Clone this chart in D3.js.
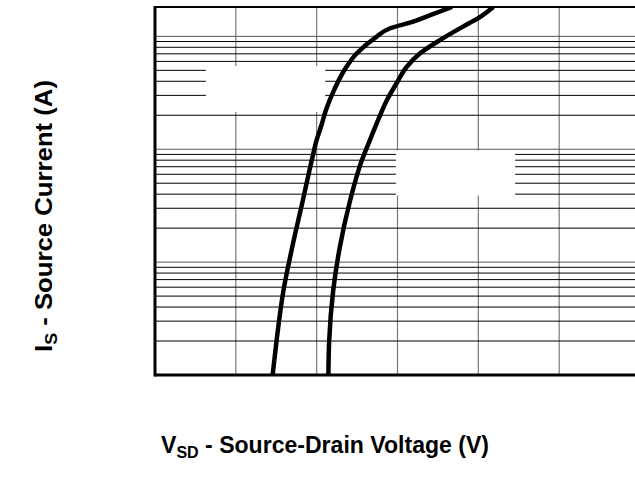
<!DOCTYPE html>
<html>
<head>
<meta charset="utf-8">
<script src="https://cdn.jsdelivr.net/npm/d3@7"></script>
<style>
  html, body { margin: 0; padding: 0; background: #fff; }
  svg { display: block; }
</style>
</head>
<body>
<div id="chart"></div>
<script>
// source-drain diode curves
const vsdHot = [0.291, 0.301, 0.318, 0.338, 0.366, 0.388, 0.400, 0.412, 0.423, 0.443, 0.468, 0.500, 0.547, 0.582, 0.639, 0.681, 0.735];
const isHot = [0.01, 0.0204, 0.0565, 0.128, 0.355, 0.802, 1.21, 1.64, 2.23, 3.34, 4.99, 7.12, 9.86, 11.8, 13.5, 15.4, 18.2];
const vsdCold = [0.429, 0.431, 0.441, 0.456, 0.483, 0.512, 0.532, 0.554, 0.574, 0.598, 0.623, 0.656, 0.705, 0.762, 0.800, 0.837];
const isCold = [0.01, 0.0204, 0.0565, 0.128, 0.355, 0.802, 1.21, 1.89, 2.73, 3.86, 5.38, 7.07, 9.27, 12.2, 14.5, 18.2];

// axis ranges and grid ticks
const xDomain = [0, 1.2];
const yDomain = [0.01, 18.2];
const xGrid = [0.2, 0.4, 0.6, 0.8, 1.0];
const decades = [0.01, 0.1, 1, 10];

// blank label boxes (data units: v0, v1, i0, i1)
const labelBoxes = [
  { v0: 0.126, v1: 0.421, i0: 2.14, i1: 5.46 },
  { v0: 0.596, v1: 0.891, i0: 0.389, i1: 0.973 },
];

const W = 635, H = 495;
const margin = { top: 7, right: -5, bottom: 120, left: 155 };
const width = W - margin.left - margin.right,
  height = H - margin.top - margin.bottom;

d3.select('#chart').html('');
const svg = d3.select('#chart').append('svg')
  .attr('width', W)
  .attr('height', H);

const g = svg.append('g').attr('transform', `translate(${margin.left},${margin.top})`);

const x = d3.scaleLinear().domain(xDomain).range([0, width]);
const y = d3.scaleLog().domain(yDomain).range([height, 0]);

g.append('clipPath').attr('id', 'plot-clip')
  .append('rect').attr('width', width).attr('height', height);

// minor horizontal lines 2..9 in each decade
const minor = [];
decades.forEach(d => {
  for (let k = 2; k <= 9; k++) {
    const v = d * k;
    if (v < yDomain[1]) minor.push(v);
  }
});

g.selectAll('.vgrid').data(xGrid).enter().append('line')
  .attr('class', 'vgrid')
  .attr('x1', d => x(d)).attr('x2', d => x(d))
  .attr('y1', 0).attr('y2', height)
  .attr('stroke', '#777').attr('stroke-width', 1.2);

g.selectAll('.hminor').data(minor).enter().append('line')
  .attr('class', 'hminor')
  .attr('x1', 0).attr('x2', width)
  .attr('y1', d => y(d)).attr('y2', d => y(d))
  .attr('stroke', '#000').attr('stroke-width', 1);

g.selectAll('.hmajor').data(decades.slice(1)).enter().append('line')
  .attr('class', 'hmajor')
  .attr('x1', 0).attr('x2', width)
  .attr('y1', d => y(d)).attr('y2', d => y(d))
  .attr('stroke', '#555').attr('stroke-width', 1);

// white boxes where the curve labels sat
g.selectAll('.lbox').data(labelBoxes).enter().append('rect')
  .attr('class', 'lbox')
  .attr('x', d => x(d.v0))
  .attr('y', d => y(d.i1))
  .attr('width', d => x(d.v1) - x(d.v0))
  .attr('height', d => y(d.i0) - y(d.i1))
  .attr('fill', '#fff');

const line = d3.line()
  .x(d => x(d[0]))
  .y(d => y(d[1]))
  .curve(d3.curveMonotoneY);

[[vsdHot, isHot], [vsdCold, isCold]].forEach(([vs, is]) => {
  g.append('path')
    .datum(d3.zip(vs, is))
    .attr('d', line)
    .attr('clip-path', 'url(#plot-clip)')
    .attr('fill', 'none')
    .attr('stroke', '#000')
    .attr('stroke-width', 4.5)
    .attr('stroke-linejoin', 'round');
});

// frame
g.append('line').attr('x1', 0).attr('x2', 0).attr('y1', -1).attr('y2', height + 1.5)
  .attr('stroke', '#000').attr('stroke-width', 3);
g.append('line').attr('x1', 0).attr('x2', width).attr('y1', height).attr('y2', height)
  .attr('stroke', '#000').attr('stroke-width', 3);
g.append('line').attr('x1', 0).attr('x2', width).attr('y1', 0).attr('y2', 0)
  .attr('stroke', '#000').attr('stroke-width', 2);

// axis titles
const font = 'Liberation Sans, Arial, Helvetica, sans-serif';

const xt = svg.append('text')
  .attr('x', 325).attr('y', 453)
  .attr('text-anchor', 'middle')
  .attr('font-family', font).attr('font-weight', 'bold').attr('font-size', 23)
  .attr('textLength', 328).attr('lengthAdjust', 'spacingAndGlyphs');
xt.append('tspan').text('V');
xt.append('tspan').attr('font-size', 16).attr('dy', 5).text('SD');
xt.append('tspan').attr('dy', -5).text(' - Source-Drain Voltage (V)');

const yt = svg.append('text')
  .attr('transform', 'translate(52,216) rotate(-90)')
  .attr('text-anchor', 'middle')
  .attr('font-family', font).attr('font-weight', 'bold').attr('font-size', 23)
  .attr('textLength', 272).attr('lengthAdjust', 'spacingAndGlyphs');
yt.append('tspan').text('I');
yt.append('tspan').attr('font-size', 16).attr('dy', 5).text('S');
yt.append('tspan').attr('dy', -5).text(' - Source Current (A)');
</script>
</body>
</html>
